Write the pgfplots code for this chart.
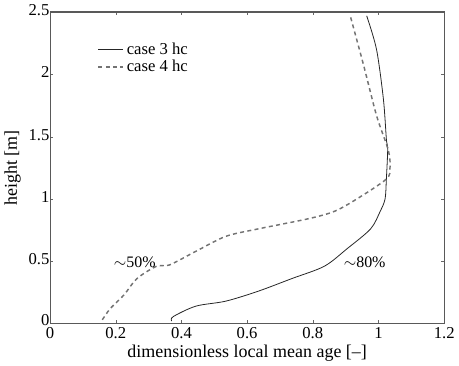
\documentclass[border=0pt]{standalone}
\usepackage{pgfplots}
\pgfplotsset{compat=1.18}
\usepackage{fontspec}
\setmainfont{Liberation Serif}
\begin{document}
\begin{tikzpicture}
\begin{axis}[
  scale only axis,
  width=296pt, height=234pt,
  xmin=0, xmax=1.2, ymin=0, ymax=2.5,
  xtick={0,0.2,...,1.2}, ytick={0,0.5,...,2.5},
  xticklabels={0,0.2,0.4,0.6,0.8,1,1.2},
  yticklabels={{\raisebox{3pt}{0}},0.5,1,1.5,2,2.5},
  tick align=inside, major tick length=2.5pt,
  axis line style={draw=black!65, line width=0.9pt},
  tick style={black!60},
  tick label style={font=\fontsize{12.5}{13}\selectfont},
  label style={font=\fontsize{13.5}{14}\selectfont},
  xtick pos=both, ytick pos=both,
  xlabel={dimensionless local mean age [--]},
  ylabel={height [m]},
  xlabel style={yshift=2.5pt},
  ylabel style={yshift=-1pt},
  xticklabel style={yshift=0.5pt},
  yticklabel style={xshift=3pt, yshift=1.5pt},
  legend style={draw=none, fill=none, at={(0.11,0.92)}, anchor=north west, font=\fontsize{12.5}{13}\selectfont, row sep=-1pt},
  legend cell align=left,
  legend image post style={xscale=1.1},
]
\addplot[black!85, line width=0.6pt, smooth] coordinates {
(0.37,0.02) (0.375,0.056) (0.444,0.14) (0.535,0.18) (0.634,0.26) (0.735,0.36) (0.835,0.46) (0.904,0.60) (0.976,0.76) (1.005,0.90) (1.02,1.0) (1.024,1.16) (1.028,1.40) (1.024,1.48) (1.015,1.80) (0.994,2.20) (0.964,2.47)
};
\addlegendentry{case 3 hc}
\addplot[black!55, line width=1.1pt, dash pattern=on 3pt off 2.5pt, smooth] coordinates {
(0.159,0.03) (0.183,0.12) (0.225,0.23) (0.264,0.36) (0.324,0.46) (0.363,0.47) (0.444,0.58) (0.535,0.70) (0.634,0.76) (0.784,0.84) (0.865,0.90) (0.934,1.0) (1.024,1.16) (1.035,1.25) (1.03,1.39) (0.994,1.67) (0.955,2.07) (0.915,2.46)
};
\addlegendentry{case 4 hc}
\node[font=\fontsize{12}{13}\selectfont] at (axis cs:0.258,0.49) {$\sim$50\%};
\node[font=\fontsize{12}{13}\selectfont] at (axis cs:0.958,0.49) {$\sim$80\%};
\end{axis}
\end{tikzpicture}
\end{document}
